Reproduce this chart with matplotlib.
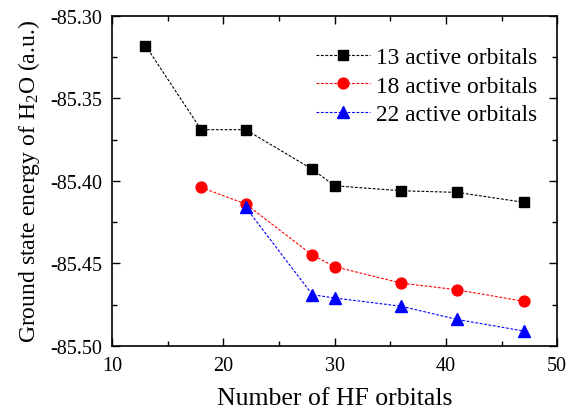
import matplotlib
matplotlib.use("Agg")
import matplotlib.pyplot as plt
from matplotlib.ticker import MultipleLocator

plt.rcParams['font.family'] = ['Liberation Serif', 'DejaVu Serif']
plt.rcParams['mathtext.fontset'] = 'custom'
plt.rcParams['mathtext.rm'] = 'Liberation Serif'
plt.rcParams['mathtext.it'] = 'Liberation Serif:italic'
plt.rcParams['axes.unicode_minus'] = False

x13 = [13, 18, 22, 28, 30, 36, 41, 47]
y13 = [-85.318, -85.369, -85.369, -85.393, -85.403, -85.406, -85.407, -85.413]
x18 = [18, 22, 28, 30, 36, 41, 47]
y18 = [-85.404, -85.414, -85.445, -85.452, -85.462, -85.466, -85.473]
x22 = [22, 28, 30, 36, 41, 47]
y22 = [-85.416, -85.469, -85.471, -85.476, -85.484, -85.491]
labels = ['13 active orbitals', '18 active orbitals', '22 active orbitals']

fig = plt.figure(figsize=(5.72, 4.10), dpi=100)
ax = fig.add_axes([0.196, 0.154, 0.778, 0.805])

ls = (0, (2.5, 1.5))
ax.plot(x13, y13, color='black', ls=ls, lw=0.8, marker='s', ms=7, label=labels[0])
ax.plot(x18, y18, color='red', ls=ls, lw=0.8, marker='o', ms=7.8, label=labels[1])
ax.plot(x22, y22, color='blue', ls=ls, lw=0.8, marker='^', ms=8.5, label=labels[2])

ax.set_xlim(10, 50)
ax.set_ylim(-85.50, -85.30)
ax.xaxis.set_major_locator(MultipleLocator(10))
ax.xaxis.set_minor_locator(MultipleLocator(5))
ax.yaxis.set_major_locator(MultipleLocator(0.05))
ax.yaxis.set_minor_locator(MultipleLocator(0.025))
ax.yaxis.set_major_formatter(matplotlib.ticker.FormatStrFormatter('%.2f'))
ax.tick_params(which='both', direction='in', top=True, right=True, labelsize=14.5, width=1)
ax.tick_params(which='major', length=6)
ax.tick_params(which='minor', length=3.5)
ax.tick_params(axis='x', pad=7)
ax.tick_params(axis='y', pad=7)
for s in ax.spines.values():
    s.set_linewidth(1.2)

ax.set_xlabel('Number of HF orbitals', fontsize=18.5, labelpad=9)
ax.set_ylabel(r'Ground state energy of H$_2$O (a.u.)', fontsize=17, labelpad=6)

ax.legend(loc='upper right', frameon=False, fontsize=16.8, handlelength=2.3,
          bbox_to_anchor=(0.992, 0.955), labelspacing=0.3, handletextpad=0.25,
          borderaxespad=0.3)

fig.savefig('out.png', dpi=100)
